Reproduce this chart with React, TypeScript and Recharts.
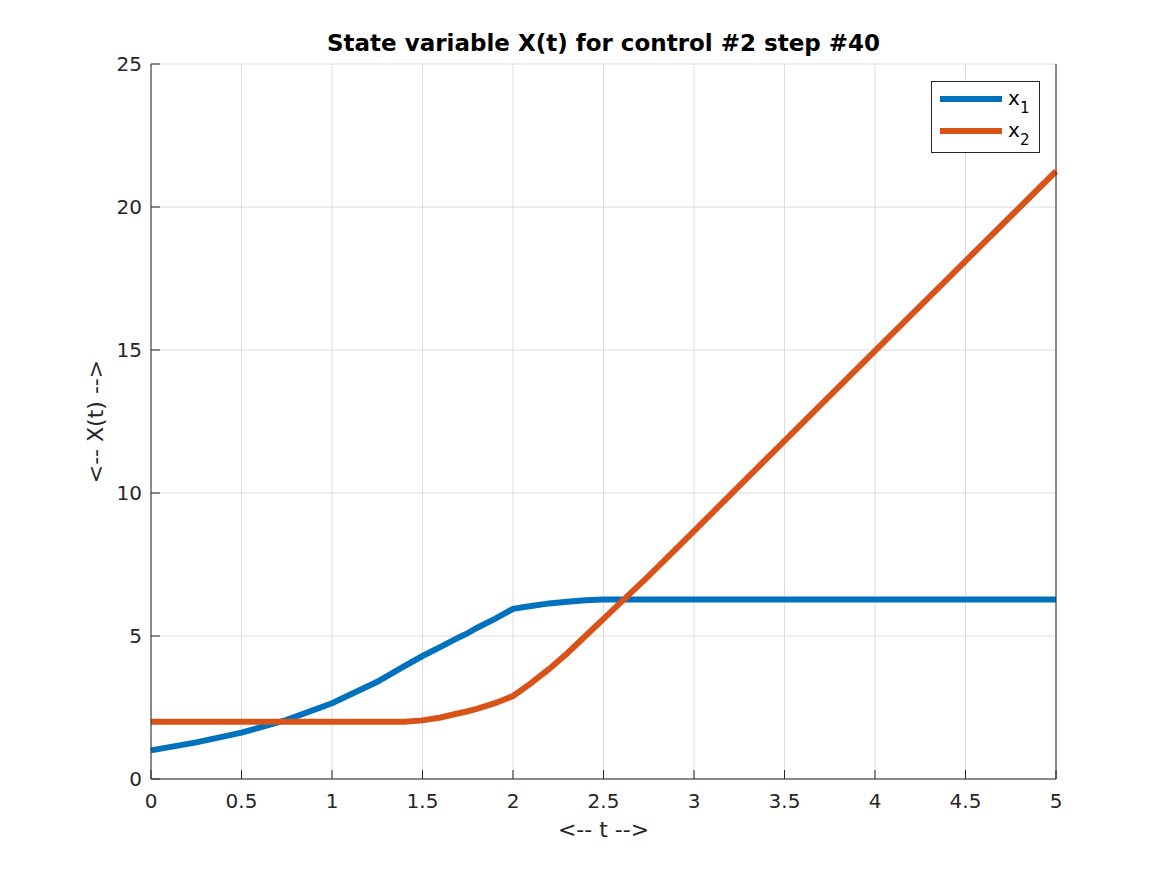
import React from 'react';
import { LineChart, Line, XAxis, YAxis, CartesianGrid } from 'recharts';

const tValues = [0, 0.25, 0.5, 0.75, 1, 1.25, 1.4, 1.5, 1.6, 1.7, 1.75, 1.8, 1.9, 2, 2.1, 2.2, 2.3, 2.4, 2.5, 2.6, 2.75, 3, 4, 5];
const x1Values = [1.0, 1.28, 1.62, 2.07, 2.65, 3.4, 3.95, 4.3, 4.62, 4.95, 5.1, 5.28, 5.6, 5.95, 6.05, 6.14, 6.2, 6.25, 6.28, 6.28, 6.28, 6.28, 6.28, 6.28];
const x2Values = [2, 2, 2, 2, 2, 2, 2, 2.05, 2.15, 2.3, 2.37, 2.45, 2.65, 2.9, 3.35, 3.85, 4.4, 5.0, 5.6, 6.2, 7.1, 8.67, 14.97, 21.25];

const xTicks = [0, 0.5, 1, 1.5, 2, 2.5, 3, 3.5, 4, 4.5, 5];
const yTicks = [0, 5, 10, 15, 20, 25];

const data = tValues.map((t, i) => ({ t, x1: x1Values[i], x2: x2Values[i] }));

const FONT = 'DejaVu Sans, sans-serif';
const AXIS = '#262626';

// ticks point inward, like the matlab box
const BottomTick = (props: any) => {
  const { x, y, payload } = props;
  return (
    <g>
      <line x1={x} y1={y} x2={x} y2={y - 9} stroke={AXIS} />
      <text x={x} y={y + 29} textAnchor="middle" fontSize={20} fill={AXIS} fontFamily={FONT}>
        {payload.value}
      </text>
    </g>
  );
};
const TopTick = (props: any) => {
  const { x, y } = props;
  return <line x1={x} y1={y} x2={x} y2={y + 9} stroke={AXIS} />;
};
const LeftTick = (props: any) => {
  const { x, y, payload } = props;
  return (
    <g>
      <line x1={x} y1={y} x2={x + 9} y2={y} stroke={AXIS} />
      <text x={x - 9} y={y + 7} textAnchor="end" fontSize={20} fill={AXIS} fontFamily={FONT}>
        {payload.value}
      </text>
    </g>
  );
};
const RightTick = (props: any) => {
  const { x, y } = props;
  return <line x1={x} y1={y} x2={x - 9} y2={y} stroke={AXIS} />;
};

const legendItems = [
  { c: '#0072BD', s: '1', top: 15 },
  { c: '#D95319', s: '2', top: 47 },
];

const LegendBox = () => (
  <svg style={{ position: 'absolute', left: 931, top: 81 }} width={109} height={72}>
    <rect x={0.5} y={0.5} width={108} height={71} fill="#fff" stroke={AXIS} />
    {legendItems.map((it) => (
      <g key={it.s}>
        <line x1={9} x2={71} y1={it.top + 3} y2={it.top + 3} stroke={it.c} strokeWidth={6} />
        <text x={77} y={it.top + 9} fontSize={20} fontFamily={FONT} fill="#000">
          x
        </text>
        <text x={89} y={it.top + 17} fontSize={15} fontFamily={FONT} fill="#000">
          {it.s}
        </text>
      </g>
    ))}
  </svg>
);

export default function App() {
  return (
    <div style={{ position: 'absolute', left: 0, top: 0, width: 1167, height: 875, background: '#fff' }}>
      <div
        style={{
          position: 'absolute',
          left: 151,
          width: 905,
          top: 30,
          textAlign: 'center',
          fontFamily: FONT,
          fontWeight: 'bold',
          fontSize: 23,
          color: '#000',
        }}
      >
        State variable X(t) for control #2 step #40
      </div>
      <LineChart width={1167} height={875} data={data} margin={{ top: 64, right: 51, bottom: 36, left: 91 }}>
        <CartesianGrid xAxisId="b" yAxisId="l" stroke="#dcdcdc" />
        <XAxis
          xAxisId="b"
          dataKey="t"
          type="number"
          domain={[0, 5]}
          ticks={xTicks}
          interval={0}
          height={60}
          tickSize={0}
          tickMargin={0}
          tickLine={false}
          stroke={AXIS}
          tick={<BottomTick />}
          label={{ value: '<-- t -->', position: 'insideBottom', offset: 2, fill: AXIS, fontSize: 22, fontFamily: FONT }}
        />
        <XAxis
          xAxisId="t"
          orientation="top"
          dataKey="t"
          type="number"
          domain={[0, 5]}
          ticks={xTicks}
          interval={0}
          height={0}
          tickSize={0}
          tickMargin={0}
          tickLine={false}
          stroke={AXIS}
          tick={<TopTick />}
        />
        <YAxis
          yAxisId="l"
          type="number"
          domain={[0, 25]}
          ticks={yTicks}
          interval={0}
          width={60}
          tickSize={0}
          tickMargin={0}
          tickLine={false}
          stroke={AXIS}
          tick={<LeftTick />}
          label={{ value: '<-- X(t) -->', angle: -90, position: 'insideLeft', offset: 4, fill: AXIS, fontSize: 22, fontFamily: FONT, style: { textAnchor: 'middle' } }}
        />
        <YAxis
          yAxisId="r"
          orientation="right"
          type="number"
          domain={[0, 25]}
          ticks={yTicks}
          interval={0}
          width={60}
          tickSize={0}
          tickMargin={0}
          tickLine={false}
          stroke={AXIS}
          tick={<RightTick />}
        />
        <Line xAxisId="b" yAxisId="l" type="linear" dataKey="x1" stroke="#0072BD" strokeWidth={6} dot={false} isAnimationActive={false} />
        <Line xAxisId="b" yAxisId="l" type="linear" dataKey="x2" stroke="#D95319" strokeWidth={6} dot={false} isAnimationActive={false} />
      </LineChart>
      <LegendBox />
    </div>
  );
}
